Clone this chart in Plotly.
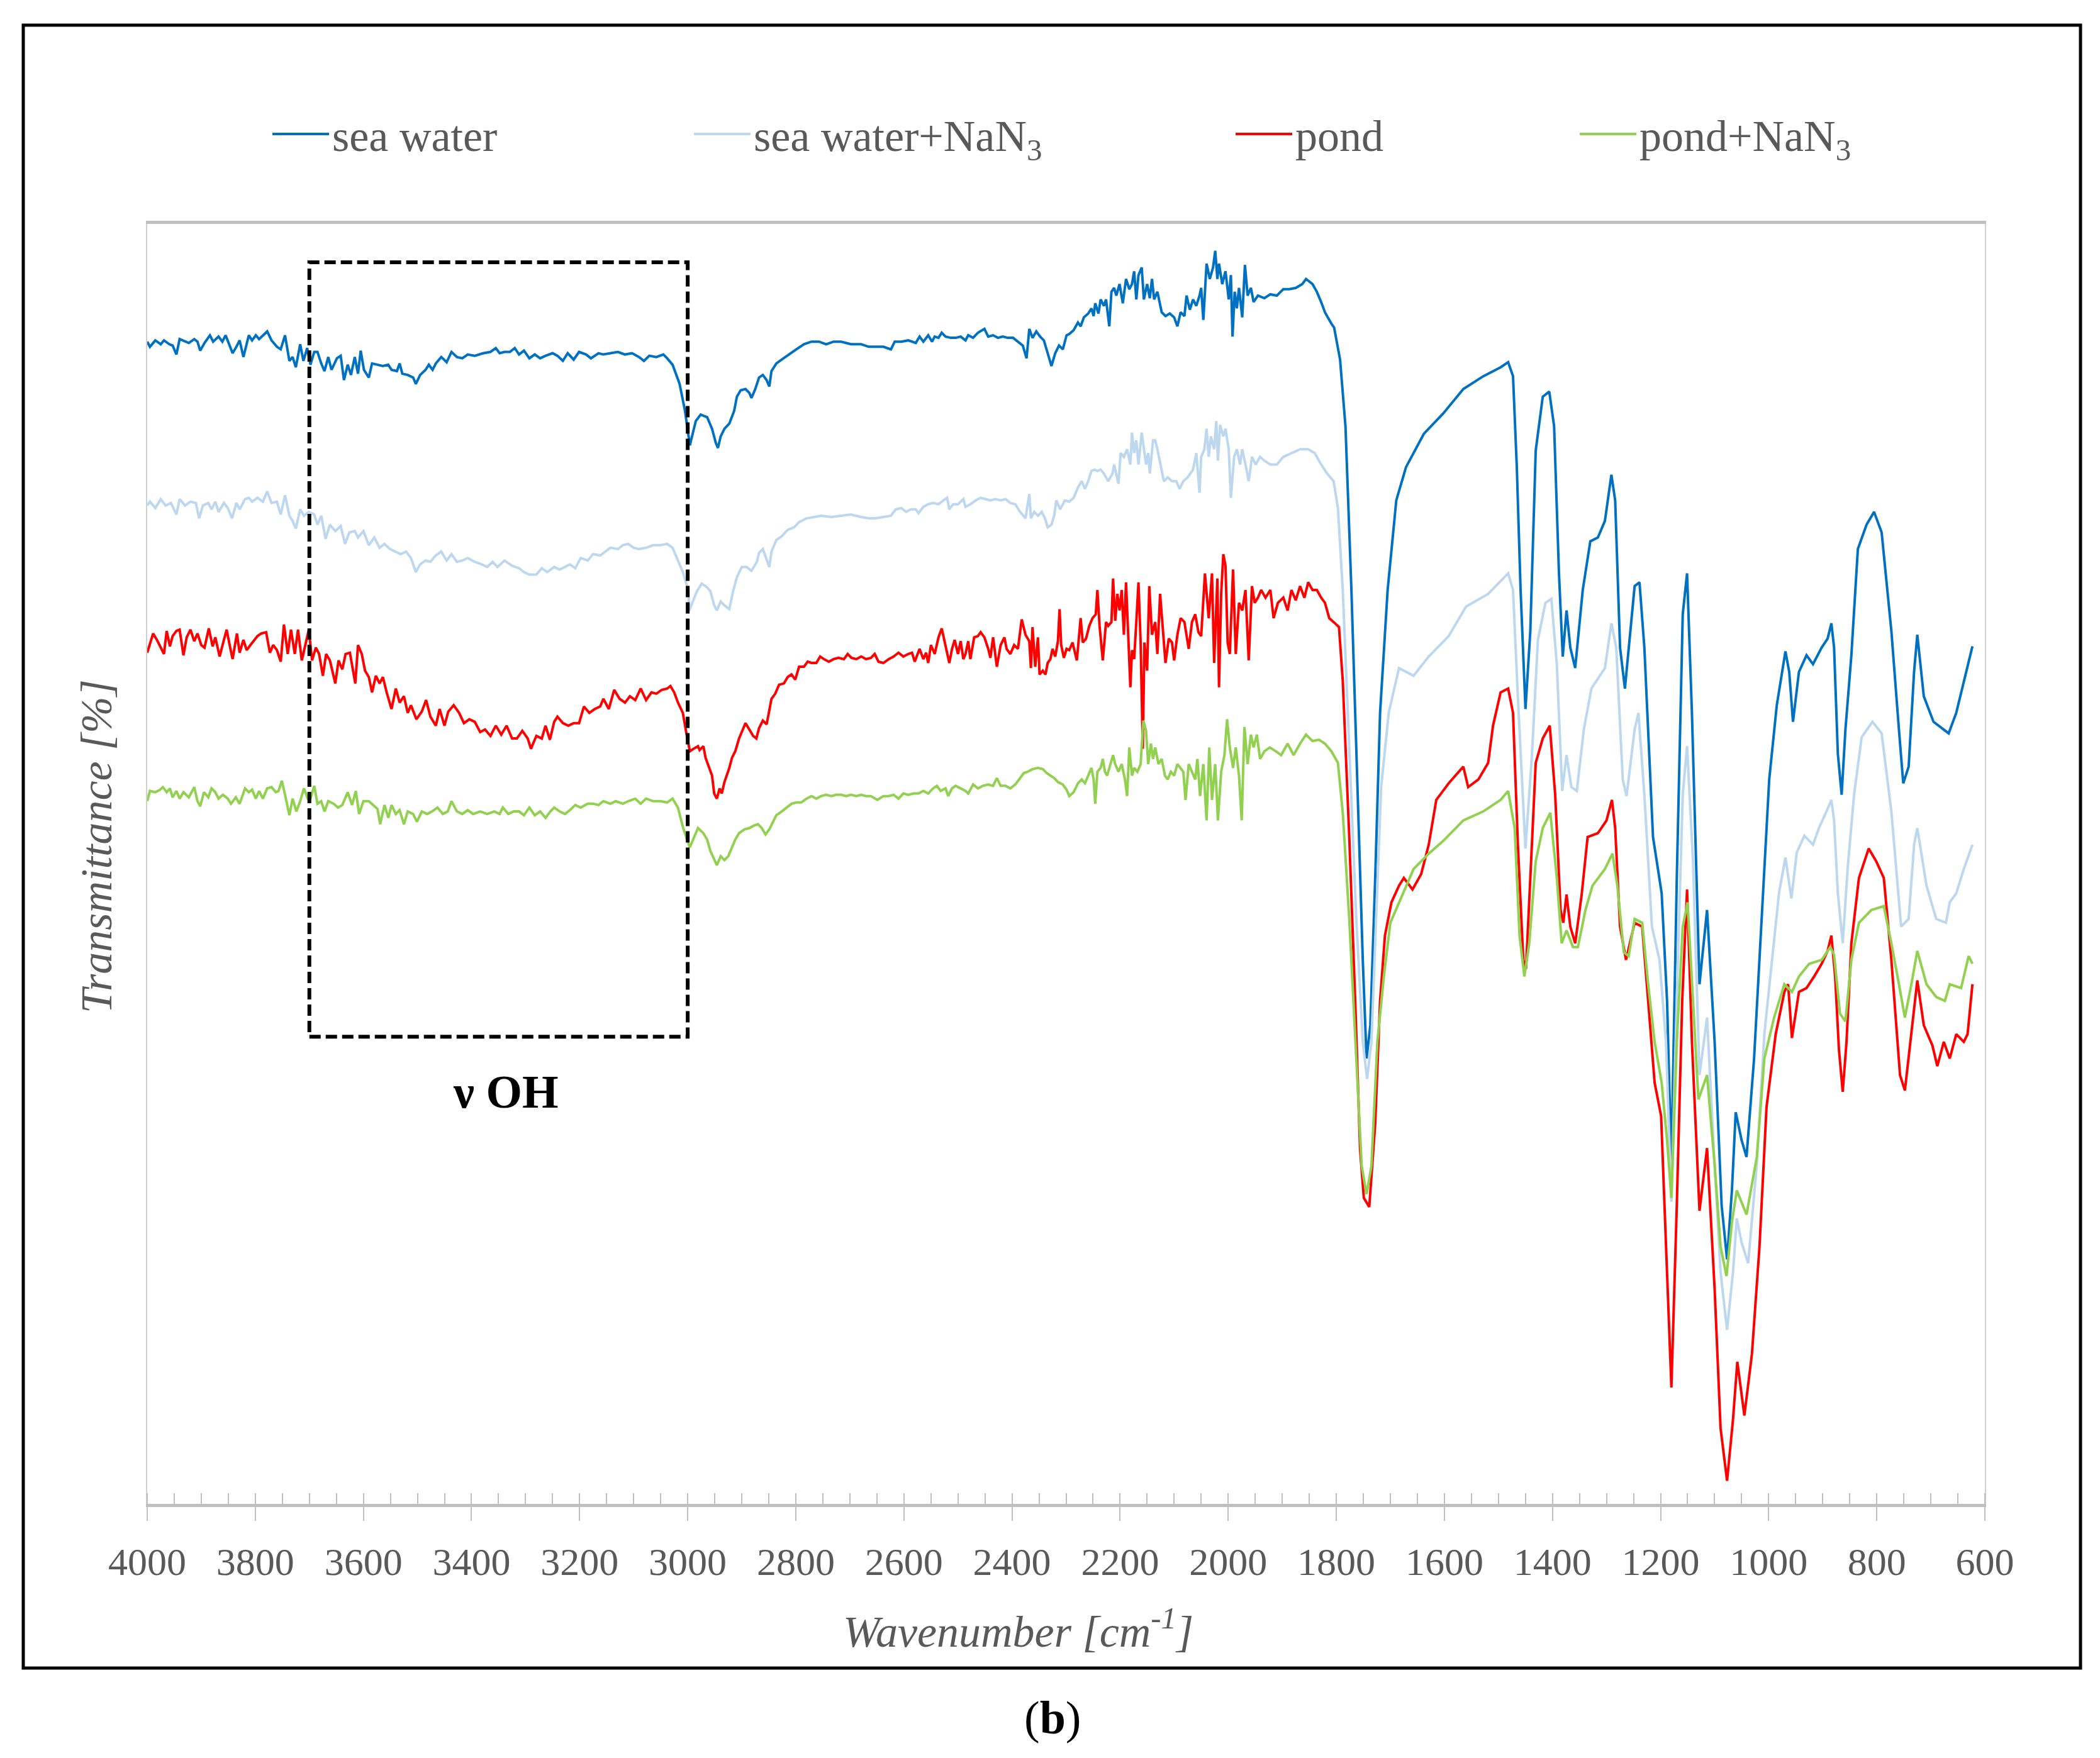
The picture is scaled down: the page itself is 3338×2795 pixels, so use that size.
import plotly.graph_objects as go

# ---------------- data ----------------
# each series: (wavenumber [cm-1], transmittance [arbitrary %-scale]) pairs
series_names = ["sea water", "sea water+NaN<sub>3</sub>", "pond", "pond+NaN<sub>3</sub>"]
series_colors = ["#0070C0", "#BDD7EE", "#FF0000", "#92D050"]

sea_water = [
    (4000, 90.8), (3995, 90.4), (3985, 90.9), (3975, 90.6), (3969, 90.9), (3959, 90.6), (3953, 90.5), (3946, 89.8), (3940, 91.0), (3930, 90.8),
    (3923, 90.7), (3913, 91.0), (3907, 90.8), (3902, 90.1), (3894, 90.7), (3884, 91.3), (3878, 90.8), (3868, 91.2), (3861, 90.8), (3855, 91.3),
    (3848, 90.5), (3842, 89.9), (3835, 90.4), (3829, 90.9), (3822, 89.6), (3812, 91.3), (3806, 90.9), (3799, 91.3), (3793, 91.0), (3786, 91.3),
    (3778, 91.6), (3770, 90.9), (3760, 90.4), (3753, 90.2), (3745, 91.3), (3737, 89.3), (3731, 89.6), (3725, 88.8), (3717, 90.6), (3711, 89.3),
    (3704, 90.3), (3698, 89.0), (3691, 90.0), (3685, 90.0), (3678, 89.1), (3672, 88.5), (3665, 89.6), (3659, 88.6), (3649, 89.5), (3642, 89.7),
    (3636, 87.8), (3629, 89.0), (3623, 88.2), (3616, 89.6), (3610, 88.3), (3605, 90.1), (3599, 88.6), (3590, 88.0), (3584, 89.1), (3574, 89.0),
    (3564, 88.9), (3554, 89.0), (3548, 88.6), (3538, 88.5), (3533, 89.1), (3528, 88.3), (3518, 88.2), (3508, 88.0), (3503, 87.5), (3495, 88.2),
    (3485, 88.6), (3479, 89.0), (3472, 88.6), (3466, 89.1), (3456, 89.6), (3446, 89.2), (3437, 90.0), (3427, 89.6), (3417, 89.5), (3407, 89.8),
    (3394, 89.7), (3378, 89.9), (3365, 90.0), (3355, 90.3), (3348, 89.9), (3339, 90.0), (3329, 90.0), (3320, 90.3), (3312, 89.8), (3303, 90.1),
    (3293, 89.5), (3283, 89.8), (3273, 89.5), (3263, 89.7), (3250, 89.9), (3241, 89.7), (3231, 89.3), (3222, 89.9), (3211, 89.4), (3201, 90.0),
    (3188, 89.8), (3179, 89.5), (3165, 89.9), (3156, 89.8), (3143, 89.9), (3129, 90.0), (3116, 89.8), (3103, 89.9), (3090, 89.6), (3081, 89.3),
    (3071, 89.7), (3058, 89.6), (3045, 89.8), (3038, 89.5), (3028, 89.0), (3015, 87.5), (3005, 85.4), (2996, 82.7),
    (2985, 84.6), (2976, 85.1), (2964, 84.9), (2955, 84.0), (2948, 82.9), (2944, 82.5), (2939, 83.4), (2932, 84.0), (2923, 84.4), (2918, 84.9),
    (2914, 85.4), (2909, 86.5), (2902, 87.0), (2893, 87.1), (2886, 86.8), (2882, 86.4), (2875, 87.1), (2868, 88.0), (2861, 88.2), (2854, 87.8),
    (2849, 87.3), (2845, 88.5), (2836, 89.1), (2826, 89.4), (2813, 89.8), (2799, 90.2), (2785, 90.6), (2771, 90.8), (2757, 90.8), (2744, 90.6),
    (2730, 90.8), (2716, 90.8), (2698, 90.6), (2679, 90.6), (2665, 90.4), (2652, 90.4), (2638, 90.4), (2624, 90.2), (2617, 90.8), (2605, 90.8),
    (2592, 90.9), (2578, 90.7), (2571, 91.2), (2564, 90.8), (2555, 91.3), (2548, 90.8), (2543, 91.2), (2536, 91.1), (2530, 91.5), (2523, 91.2),
    (2513, 91.1), (2504, 91.1), (2495, 91.2), (2486, 90.9), (2481, 91.3), (2472, 91.1), (2463, 91.5), (2451, 91.8), (2444, 91.2), (2435, 91.3),
    (2426, 91.1), (2417, 91.2), (2408, 91.1), (2398, 91.1), (2389, 90.8), (2380, 90.5), (2373, 89.5), (2368, 91.8), (2362, 91.1), (2355, 91.6),
    (2348, 91.2), (2341, 90.9), (2334, 89.9), (2327, 88.9), (2320, 89.9), (2313, 90.5), (2306, 90.2), (2299, 91.3),
    (2294, 91.4), (2286, 91.7), (2278, 92.3), (2273, 92.0), (2267, 92.7), (2259, 93.0), (2253, 93.4), (2249, 92.8), (2246, 93.8), (2240, 93.0),
    (2236, 94.1), (2230, 93.6), (2226, 94.1), (2220, 92.0), (2216, 94.7), (2211, 95.0), (2207, 94.4), (2201, 95.3), (2195, 93.8), (2189, 95.7),
    (2183, 94.9), (2178, 95.3), (2174, 96.3), (2170, 94.1), (2166, 96.0), (2160, 96.6), (2156, 94.1), (2150, 95.3), (2145, 94.2), (2141, 95.7),
    (2137, 94.1), (2131, 94.7), (2123, 93.1), (2116, 92.8), (2108, 93.0), (2100, 92.7), (2094, 92.0), (2088, 93.1), (2081, 92.8), (2077, 94.4),
    (2071, 93.3), (2065, 94.1), (2059, 93.6), (2053, 94.4), (2050, 95.0), (2046, 92.5), (2040, 96.9), (2034, 95.7), (2028, 96.6), (2024, 97.9),
    (2020, 95.7), (2017, 96.9), (2011, 95.3), (2005, 96.3), (1999, 94.1), (1995, 96.0), (1992, 91.2), (1988, 94.7), (1984, 93.4), (1980, 95.0),
    (1974, 92.7), (1969, 96.8), (1964, 94.4), (1958, 95.0), (1953, 93.9), (1945, 94.4), (1933, 94.2), (1922, 94.5), (1910, 94.4), (1898, 94.9),
    (1887, 94.9), (1875, 95.0), (1863, 95.3), (1856, 95.7), (1844, 95.3), (1836, 94.7), (1828, 93.9), (1821, 93.1), (1809, 92.2),
    (1804, 91.9), (1793, 89.4), (1783, 84.2), (1772, 71.4), (1760, 55.3), (1751, 42.5), (1744, 34.8), (1737, 37.4), (1728, 48.9), (1719, 61.8),
    (1705, 71.4), (1689, 78.4), (1671, 81.0), (1638, 83.6), (1602, 85.2), (1565, 87.1), (1528, 88.1), (1496, 88.8), (1482, 89.2), (1473, 88.1),
    (1466, 81.0), (1459, 71.4), (1450, 62.1), (1441, 68.2), (1431, 82.3), (1418, 86.5), (1406, 86.9), (1397, 84.2), (1388, 72.7), (1381, 66.2),
    (1374, 69.8), (1367, 66.9), (1358, 65.3), (1344, 71.4), (1330, 75.2), (1316, 75.5), (1303, 76.8), (1291, 80.4), (1284, 78.4), (1275, 66.9),
    (1266, 63.7),
    (1248, 71.7), (1239, 72.0), (1230, 66.9), (1214, 52.1), (1198, 47.7), (1188, 39.3), (1180, 26.5), (1170, 48.9), (1159, 69.5), (1151, 72.7),
    (1142, 61.8), (1128, 40.6), (1114, 46.4), (1100, 36.1), (1087, 23.3), (1077, 19.1), (1068, 24.5), (1061, 30.6), (1050, 28.4), (1041, 27.1),
    (1027, 34.8), (1013, 45.7), (999, 56.6), (985, 62.4), (969, 66.6), (962, 65.0), (955, 61.1), (944, 65.0), (930, 66.3), (918, 65.6),
    (902, 66.9), (891, 67.6), (884, 68.8), (879, 66.9), (872, 58.6), (865, 55.4), (858, 60.5), (847, 66.3), (835, 74.6), (819, 76.5),
    (805, 77.5), (791, 75.9), (773, 68.2), (759, 60.5), (751, 56.3), (741, 57.6), (731, 65.0), (725, 67.9), (713, 63.1), (695, 61.1),
    (676, 60.5), (667, 60.2), (653, 61.8), (639, 64.3), (623, 67.0),
]

sea_water_nan3 = [
    (4000, 78.0), (3995, 78.3), (3985, 77.8), (3975, 78.5), (3966, 78.0), (3956, 78.2), (3946, 77.3), (3940, 78.5), (3930, 78.0), (3920, 78.3),
    (3910, 78.2), (3904, 77.0), (3897, 78.0), (3887, 78.2), (3881, 77.7), (3874, 78.3), (3868, 77.5), (3858, 78.2), (3851, 77.8), (3843, 77.0),
    (3835, 78.2), (3829, 77.7), (3819, 78.5), (3812, 78.6), (3806, 78.3), (3796, 78.6), (3786, 78.3), (3778, 79.1), (3770, 78.2), (3760, 78.3),
    (3753, 77.3), (3745, 78.8), (3737, 77.2), (3731, 76.8), (3725, 76.2), (3717, 77.7), (3710, 77.2), (3701, 77.5), (3691, 77.3), (3685, 76.5),
    (3678, 77.2), (3670, 75.4), (3662, 76.5), (3652, 76.0), (3642, 76.4), (3634, 75.0), (3626, 75.9), (3616, 76.0), (3610, 75.5), (3600, 76.0),
    (3590, 74.9), (3580, 75.5), (3570, 74.7), (3561, 75.0), (3551, 74.6), (3541, 74.4), (3531, 74.2), (3521, 74.4), (3512, 73.9), (3503, 72.8),
    (3495, 73.4), (3485, 73.7), (3476, 73.6), (3466, 74.1), (3456, 74.4), (3446, 73.7), (3437, 74.2), (3427, 73.6), (3417, 73.7), (3407, 73.9),
    (3394, 73.6), (3381, 73.4), (3371, 73.2), (3361, 73.6), (3352, 73.2), (3339, 73.7), (3325, 73.3), (3312, 73.1), (3303, 72.8), (3293, 72.6),
    (3280, 72.6), (3270, 73.1), (3260, 72.8), (3247, 73.2), (3237, 73.0), (3227, 73.2), (3218, 73.4), (3208, 73.1), (3198, 73.9), (3185, 73.7),
    (3175, 74.2), (3162, 74.1), (3152, 74.4), (3143, 74.7), (3129, 74.6), (3120, 74.9), (3110, 75.0), (3100, 74.7), (3090, 74.6), (3077, 74.7),
    (3064, 74.9), (3051, 74.9), (3038, 75.0), (3028, 74.7), (3018, 73.7), (3009, 72.8), (2999, 71.4), (2997, 69.8),
    (2983, 71.3), (2974, 71.9), (2964, 71.6), (2958, 71.3), (2951, 70.2), (2946, 69.8), (2939, 70.5), (2932, 70.2), (2923, 69.9), (2916, 71.3),
    (2909, 72.4), (2900, 73.2), (2891, 73.2), (2882, 72.9), (2872, 73.6), (2868, 74.3), (2861, 74.6), (2854, 73.7), (2849, 73.2), (2845, 74.4),
    (2836, 75.3), (2826, 75.6), (2815, 76.1), (2803, 76.3), (2794, 76.7), (2780, 77.0), (2767, 77.1), (2753, 77.2), (2734, 77.1), (2716, 77.2),
    (2698, 77.3), (2679, 77.1), (2665, 77.0), (2652, 77.0), (2638, 77.1), (2624, 77.2), (2615, 77.7), (2605, 77.8), (2596, 77.5), (2587, 77.7),
    (2578, 77.7), (2573, 77.4), (2564, 77.9), (2555, 78.1), (2546, 78.2), (2536, 78.1), (2527, 78.4), (2520, 78.6), (2516, 77.7), (2509, 78.1),
    (2500, 78.1), (2490, 78.5), (2486, 77.9), (2477, 78.1), (2467, 78.4), (2458, 78.6), (2449, 78.5), (2440, 78.4), (2431, 78.5), (2421, 78.4),
    (2412, 78.5), (2403, 78.2), (2394, 78.1), (2385, 77.5), (2375, 77.0), (2368, 78.9), (2365, 77.0), (2359, 77.5), (2352, 77.2), (2345, 77.5),
    (2339, 77.0), (2334, 76.3), (2327, 76.5), (2322, 77.2), (2318, 78.4), (2311, 77.7), (2302, 78.4),
    (2294, 78.3), (2286, 78.6), (2278, 79.4), (2271, 79.9), (2265, 79.3), (2259, 79.9), (2253, 80.7), (2247, 80.8), (2242, 80.7), (2236, 80.8),
    (2230, 80.5), (2222, 79.9), (2214, 80.5), (2211, 81.2), (2207, 80.5), (2203, 79.7), (2199, 82.1), (2193, 81.8), (2187, 82.4), (2181, 81.2),
    (2178, 83.7), (2174, 82.1), (2170, 83.1), (2166, 81.2), (2160, 83.7), (2156, 82.4), (2152, 81.2), (2148, 82.1), (2145, 80.5), (2139, 83.1),
    (2135, 83.1), (2131, 82.4), (2125, 81.2), (2119, 79.9), (2112, 80.2), (2104, 79.9), (2096, 79.9), (2090, 79.3), (2083, 79.9), (2075, 80.2),
    (2065, 80.8), (2059, 82.1), (2053, 79.0), (2050, 81.8), (2044, 82.4), (2040, 84.0), (2036, 81.8), (2032, 83.4), (2026, 82.4), (2022, 84.6),
    (2019, 81.5), (2015, 84.3), (2009, 83.4), (2005, 84.0), (1999, 82.4), (1995, 78.6), (1989, 81.8), (1984, 82.4), (1978, 81.2), (1974, 82.4),
    (1968, 81.2), (1962, 79.9), (1956, 81.8), (1949, 81.2), (1941, 81.8), (1933, 81.5), (1922, 81.2), (1910, 81.2), (1898, 81.8), (1883, 82.1),
    (1867, 82.4), (1852, 82.4), (1840, 82.1), (1828, 81.2), (1817, 80.5), (1805, 79.9),
    (1797, 77.8), (1788, 71.4), (1776, 58.5), (1763, 45.7), (1751, 36.1), (1743, 33.2), (1735, 36.1), (1726, 45.7), (1717, 56.0), (1703, 61.8),
    (1684, 65.3), (1657, 64.7), (1629, 66.2), (1592, 67.8), (1560, 70.1), (1519, 71.1), (1482, 72.7), (1473, 71.4), (1464, 63.0), (1450, 51.2),
    (1438, 58.5), (1427, 67.5), (1413, 70.4), (1402, 70.7), (1392, 65.6), (1382, 55.7), (1374, 58.5), (1365, 56.0), (1355, 55.7), (1342, 60.5),
    (1328, 63.7), (1303, 65.3), (1291, 68.8), (1282, 66.9), (1270, 56.6), (1263, 55.3),
    (1248, 60.5), (1241, 61.8), (1230, 55.4), (1216, 45.1), (1202, 42.5), (1190, 36.1), (1180, 23.6), (1168, 42.5), (1159, 55.4), (1151, 59.2),
    (1140, 50.2), (1128, 33.5), (1114, 38.0), (1100, 26.5), (1089, 18.1), (1077, 13.6), (1066, 18.1), (1059, 22.3), (1050, 20.4), (1038, 18.8),
    (1022, 26.5), (1008, 36.7), (994, 42.5), (981, 47.7), (969, 50.5), (958, 47.3), (948, 50.9), (934, 52.2), (918, 51.5), (907, 52.8),
    (893, 54.1), (884, 55.0), (879, 53.4), (872, 47.7), (863, 43.8), (854, 49.6), (842, 55.4), (828, 59.9), (808, 61.1), (791, 60.2),
    (773, 54.1), (755, 45.1), (741, 45.7), (731, 51.5), (725, 52.8), (708, 48.3), (690, 45.7), (672, 45.4), (665, 47.0), (653, 47.7),
    (639, 49.6), (623, 51.5),
]

pond = [
    (4000, 66.5), (3995, 67.2), (3989, 68.0), (3982, 67.5), (3976, 67.0), (3969, 66.4), (3964, 68.2), (3958, 67.0), (3953, 67.8), (3946, 68.2),
    (3940, 68.3), (3933, 66.3), (3927, 67.7), (3920, 68.3), (3913, 67.4), (3907, 68.0), (3900, 67.1), (3894, 66.9), (3886, 68.4), (3879, 67.0),
    (3874, 67.7), (3866, 66.2), (3860, 67.2), (3853, 68.3), (3847, 67.0), (3842, 66.0), (3834, 68.0), (3829, 66.5), (3822, 67.5), (3816, 66.7),
    (3809, 67.1), (3802, 67.5), (3796, 67.8), (3789, 68.0), (3780, 68.1), (3773, 66.5), (3767, 67.1), (3760, 66.7), (3753, 65.8), (3747, 68.7),
    (3740, 66.4), (3734, 68.3), (3727, 66.4), (3721, 68.3), (3714, 65.9), (3708, 67.0), (3701, 68.3), (3695, 65.9), (3688, 66.9), (3682, 66.4),
    (3675, 64.7), (3669, 66.4), (3662, 65.9), (3652, 64.1), (3646, 65.9), (3639, 65.2), (3633, 66.4), (3625, 66.5), (3615, 64.1), (3610, 67.1),
    (3603, 66.4), (3597, 65.1), (3590, 64.6), (3584, 63.4), (3577, 64.7), (3570, 64.1), (3564, 64.6), (3557, 63.4), (3548, 62.1), (3540, 63.7),
    (3533, 62.6), (3525, 63.1), (3518, 61.8), (3512, 62.4), (3502, 61.3), (3492, 61.9), (3484, 62.8), (3476, 61.5), (3466, 60.8), (3459, 62.1),
    (3450, 60.8), (3443, 61.9), (3433, 62.4), (3423, 61.8), (3414, 61.0), (3404, 61.3), (3394, 61.1), (3384, 60.3), (3375, 60.5), (3365, 60.0),
    (3355, 60.8), (3345, 60.1), (3335, 60.8), (3325, 59.8), (3316, 59.8), (3306, 60.4), (3296, 59.8), (3290, 59.0), (3280, 60.0), (3270, 59.8),
    (3263, 60.8), (3255, 59.7), (3247, 61.1), (3241, 61.5), (3231, 61.0), (3221, 60.8), (3211, 61.0), (3201, 61.0), (3192, 62.3), (3182, 61.8),
    (3172, 62.1), (3162, 62.3), (3156, 62.9), (3146, 62.1), (3136, 63.6), (3126, 62.9), (3116, 62.6), (3107, 63.1), (3097, 62.8), (3087, 63.7),
    (3077, 62.8), (3067, 63.4), (3058, 63.3), (3048, 63.6), (3038, 63.7), (3032, 63.9), (3025, 63.4), (3018, 62.6), (3009, 61.8), (3002, 60.1),
    (2996, 58.8), (2989, 59.0), (2981, 59.2),
    (2978, 58.9), (2971, 59.2), (2967, 58.3), (2960, 57.5), (2955, 56.9), (2951, 55.5), (2946, 55.1), (2941, 55.9), (2937, 55.5), (2932, 56.4),
    (2928, 56.9), (2923, 57.5), (2918, 58.3), (2912, 58.8), (2905, 59.8), (2898, 60.5), (2893, 61.0), (2886, 60.5), (2879, 60.0), (2873, 59.8),
    (2868, 60.6), (2861, 61.2), (2854, 60.9), (2849, 62.0), (2845, 62.9), (2838, 63.3), (2831, 64.0), (2822, 64.1), (2815, 64.6), (2808, 64.8),
    (2801, 64.4), (2794, 65.4), (2785, 65.4), (2778, 65.8), (2771, 65.7), (2762, 65.7), (2755, 66.2), (2748, 66.0), (2739, 65.8), (2730, 66.0),
    (2721, 66.1), (2711, 66.0), (2704, 66.4), (2697, 66.1), (2688, 66.0), (2679, 66.2), (2670, 66.0), (2661, 66.1), (2654, 66.4), (2647, 65.8),
    (2638, 65.7), (2628, 66.0), (2619, 66.2), (2610, 66.5), (2601, 66.2), (2592, 66.4), (2585, 66.5), (2580, 65.8), (2576, 66.2), (2571, 66.8),
    (2564, 66.0), (2559, 66.5), (2555, 65.7), (2550, 67.1), (2543, 66.4), (2536, 67.7), (2530, 68.4), (2523, 67.1), (2516, 65.7), (2511, 66.8),
    (2506, 67.5), (2500, 66.4), (2495, 67.4), (2490, 66.0), (2486, 66.4), (2481, 67.4), (2477, 66.0), (2470, 67.7), (2463, 67.8), (2458, 68.1),
    (2451, 67.7), (2444, 66.8), (2440, 66.1), (2435, 67.7), (2428, 65.4), (2421, 67.1), (2414, 67.7), (2410, 66.8), (2403, 66.4), (2396, 67.1),
    (2389, 66.8), (2382, 69.1), (2375, 67.9), (2368, 67.4), (2365, 65.3), (2362, 68.5), (2357, 65.4), (2352, 67.7), (2349, 64.8), (2343, 65.1),
    (2338, 64.8), (2334, 65.7), (2329, 66.0), (2325, 66.8), (2320, 66.2), (2315, 67.4), (2312, 69.9), (2309, 67.1), (2304, 66.1), (2299, 66.8),
    (2294, 66.7), (2288, 67.3), (2280, 65.9), (2273, 69.2), (2269, 67.3), (2263, 67.6), (2257, 68.6), (2251, 69.2), (2245, 69.5), (2242, 71.4),
    (2238, 68.6), (2232, 65.9), (2226, 68.9), (2222, 68.6), (2216, 68.9), (2213, 72.3), (2209, 69.0), (2205, 71.1), (2201, 69.8), (2197, 71.4),
    (2193, 67.9), (2189, 72.0), (2181, 63.8), (2178, 66.7), (2174, 66.0), (2170, 68.9), (2166, 72.0), (2162, 67.3), (2158, 59.0), (2155, 67.3),
    (2150, 65.1), (2146, 71.7), (2141, 67.9), (2135, 68.9), (2131, 66.4), (2126, 71.1), (2121, 68.6), (2116, 65.7), (2110, 67.6), (2104, 67.3),
    (2100, 65.9), (2094, 67.9), (2088, 69.2), (2081, 68.9), (2073, 66.8), (2067, 68.9), (2061, 69.5), (2055, 68.1), (2050, 67.8), (2043, 72.7),
    (2036, 69.2), (2030, 72.7), (2026, 65.7), (2020, 72.3), (2017, 63.8), (2013, 71.1), (2009, 74.2), (2005, 73.3), (2001, 67.3), (1997, 66.4),
    (1991, 73.0), (1986, 66.4), (1980, 70.4), (1974, 69.8), (1968, 71.4), (1962, 65.9), (1956, 71.7), (1951, 70.4), (1945, 70.8), (1939, 71.4),
    (1931, 70.8), (1922, 71.4), (1916, 69.2), (1908, 70.4), (1898, 70.8), (1890, 69.8), (1883, 71.4), (1875, 70.6), (1867, 71.7), (1859, 70.8),
    (1852, 72.0), (1844, 71.4), (1836, 71.4), (1828, 70.8), (1821, 70.4), (1813, 69.2), (1805, 68.9),
    (1795, 68.5), (1788, 64.3), (1776, 52.1), (1765, 39.3), (1756, 27.7), (1749, 23.9), (1739, 23.2), (1728, 29.7), (1719, 39.3), (1710, 44.4),
    (1698, 47.0), (1684, 48.3), (1675, 48.9), (1659, 48.0), (1643, 49.2), (1629, 51.5), (1615, 55.0), (1592, 56.3), (1565, 57.6), (1556, 56.0),
    (1537, 56.6), (1519, 57.9), (1510, 60.8), (1496, 63.4), (1482, 63.7), (1473, 61.8), (1464, 51.5), (1454, 42.5), (1449, 41.8), (1441, 48.9),
    (1431, 57.9), (1418, 59.8), (1405, 60.8), (1395, 55.4), (1385, 46.4), (1380, 45.4), (1374, 47.6), (1367, 45.1), (1358, 43.8), (1346, 47.6),
    (1335, 52.1), (1316, 52.4), (1300, 53.4), (1290, 55.0), (1284, 52.8), (1275, 45.1), (1264, 42.5),
    (1248, 45.4), (1234, 45.1), (1223, 39.3), (1211, 32.9), (1199, 30.3), (1190, 20.1), (1180, 9.1), (1170, 23.3), (1160, 39.3), (1151, 48.0),
    (1142, 36.1), (1128, 22.9), (1114, 27.8), (1100, 16.8), (1089, 5.9), (1077, 1.8), (1066, 6.6), (1058, 11.1), (1045, 6.9), (1031, 11.7),
    (1017, 20.1), (1004, 31.0), (987, 36.7), (971, 40.0), (964, 40.6), (957, 36.4), (944, 40.0), (930, 40.3), (916, 41.2), (902, 42.2),
    (891, 43.2), (884, 44.4), (877, 41.2), (870, 35.5), (863, 32.2), (856, 36.1), (847, 43.8), (833, 48.9), (815, 51.2), (801, 50.2),
    (787, 48.9), (773, 42.5), (757, 33.5), (748, 32.3), (736, 36.7), (725, 40.9), (713, 37.4), (697, 35.8), (688, 34.2), (676, 36.1),
    (665, 34.8), (653, 36.7), (639, 36.1), (632, 36.7), (623, 40.6),
]

pond_nan3 = [
    (4000, 54.9), (3995, 55.7), (3985, 55.6), (3976, 55.8), (3971, 56.0), (3964, 55.6), (3958, 55.9), (3953, 55.2), (3946, 55.7), (3940, 55.1),
    (3933, 55.6), (3923, 55.2), (3913, 56.0), (3907, 54.9), (3902, 54.5), (3895, 55.6), (3887, 55.2), (3881, 55.9), (3874, 55.6), (3868, 55.1),
    (3860, 55.4), (3851, 55.1), (3845, 54.7), (3836, 55.2), (3829, 54.7), (3819, 55.9), (3812, 55.6), (3806, 55.8), (3799, 55.1), (3793, 55.7),
    (3786, 55.1), (3778, 55.9), (3770, 56.0), (3762, 55.6), (3757, 55.7), (3751, 56.5), (3745, 55.4), (3737, 53.8), (3731, 55.1), (3724, 54.1),
    (3717, 54.9), (3710, 55.9), (3703, 55.1), (3698, 55.1), (3691, 56.1), (3685, 54.7), (3678, 54.9), (3672, 54.1), (3665, 54.9), (3655, 54.7),
    (3647, 54.4), (3639, 54.6), (3629, 55.6), (3621, 54.6), (3614, 55.7), (3608, 53.9), (3600, 54.9), (3590, 54.9), (3582, 54.6), (3574, 54.3),
    (3569, 53.1), (3561, 54.6), (3554, 53.6), (3548, 54.6), (3540, 53.9), (3533, 54.2), (3525, 53.1), (3518, 54.1), (3508, 53.9), (3501, 53.3),
    (3492, 54.1), (3482, 53.9), (3473, 54.1), (3463, 54.4), (3453, 53.9), (3444, 54.1), (3437, 54.9), (3427, 54.1), (3417, 53.9), (3407, 54.2),
    (3397, 53.9), (3384, 54.1), (3371, 53.9), (3358, 54.1), (3348, 53.9), (3342, 54.4), (3332, 53.9), (3322, 54.1), (3312, 54.1), (3303, 53.8),
    (3293, 54.4), (3283, 53.8), (3273, 54.1), (3263, 53.6), (3254, 54.1), (3247, 54.4), (3237, 54.1), (3227, 53.9), (3218, 54.2), (3208, 54.6),
    (3198, 54.4), (3185, 54.7), (3175, 54.7), (3165, 54.6), (3156, 54.9), (3143, 54.7), (3133, 54.9), (3120, 54.7), (3110, 54.9), (3097, 55.1),
    (3087, 54.7), (3077, 55.1), (3064, 54.9), (3051, 54.9), (3038, 54.8), (3028, 55.1), (3018, 54.4), (3009, 52.9), (3002, 52.0), (2996, 51.3),
    (2989, 52.0), (2981, 52.8),
    (2971, 52.4), (2964, 51.9), (2958, 51.0), (2951, 50.3), (2946, 49.9), (2939, 50.6), (2932, 50.3), (2925, 50.6), (2918, 51.3), (2912, 51.9),
    (2905, 52.4), (2895, 52.7), (2886, 52.8), (2877, 53.0), (2870, 53.1), (2863, 52.8), (2856, 52.3), (2849, 52.7), (2842, 53.3), (2836, 53.8),
    (2826, 54.1), (2817, 54.4), (2808, 54.7), (2799, 54.8), (2790, 54.8), (2780, 55.1), (2771, 55.3), (2762, 55.1), (2753, 55.3), (2744, 55.4),
    (2734, 55.3), (2725, 55.4), (2716, 55.4), (2707, 55.3), (2698, 55.4), (2688, 55.3), (2679, 55.4), (2670, 55.3), (2661, 55.3), (2649, 55.0),
    (2638, 55.3), (2628, 55.3), (2619, 55.4), (2610, 55.1), (2601, 55.5), (2592, 55.4), (2582, 55.5), (2573, 55.5), (2564, 55.7), (2555, 55.5),
    (2546, 55.9), (2539, 56.1), (2532, 55.7), (2523, 55.9), (2518, 55.3), (2511, 55.9), (2504, 56.1), (2495, 55.9), (2486, 55.7), (2481, 55.5),
    (2472, 56.2), (2463, 55.9), (2454, 56.1), (2444, 56.2), (2435, 56.1), (2428, 56.7), (2421, 56.1), (2412, 56.1), (2403, 55.9), (2394, 56.2),
    (2385, 56.7), (2378, 57.1), (2371, 57.2), (2362, 57.4), (2352, 57.5), (2343, 57.4), (2336, 57.1), (2329, 56.9), (2322, 56.7), (2315, 56.4),
    (2306, 56.2), (2299, 55.8),
    (2294, 55.3), (2286, 55.6), (2278, 56.3), (2271, 56.6), (2265, 56.3), (2259, 56.9), (2253, 57.5), (2249, 56.6), (2246, 54.7), (2242, 57.2),
    (2236, 57.5), (2232, 58.2), (2228, 57.2), (2224, 56.9), (2218, 57.8), (2213, 58.5), (2209, 57.8), (2203, 57.2), (2197, 57.8), (2191, 56.6),
    (2187, 55.3), (2183, 59.1), (2178, 56.9), (2174, 57.5), (2168, 57.2), (2162, 57.8), (2157, 61.2), (2152, 60.4), (2148, 57.8), (2143, 59.4),
    (2139, 58.2), (2135, 59.1), (2129, 57.8), (2123, 58.2), (2117, 56.9), (2112, 56.6), (2106, 57.2), (2100, 56.9), (2094, 57.8), (2088, 57.5),
    (2083, 57.2), (2079, 55.0), (2073, 57.8), (2067, 57.2), (2061, 56.6), (2057, 58.2), (2052, 55.3), (2046, 57.8), (2040, 53.4), (2035, 59.1),
    (2030, 55.0), (2024, 57.8), (2019, 53.4), (2013, 57.2), (2007, 58.5), (2002, 61.3), (1997, 59.1), (1991, 57.5), (1986, 59.1), (1980, 56.9),
    (1975, 53.4), (1970, 60.7), (1964, 57.8), (1958, 60.1), (1953, 59.1), (1947, 60.1), (1941, 58.2), (1933, 58.8), (1923, 59.1), (1912, 58.8),
    (1902, 58.5), (1890, 59.4), (1879, 58.5), (1867, 59.4), (1856, 60.1), (1844, 59.6), (1832, 59.7), (1821, 59.4), (1809, 58.8),
    (1797, 57.9), (1788, 54.0), (1776, 45.7), (1765, 36.1), (1753, 26.4), (1744, 24.2), (1735, 26.4), (1724, 36.1), (1712, 41.2), (1700, 45.4),
    (1684, 47.0), (1657, 49.6), (1629, 50.8), (1602, 51.8), (1565, 53.4), (1528, 54.1), (1496, 55.0), (1482, 55.7), (1470, 52.8), (1461, 44.4),
    (1452, 41.2), (1443, 43.8), (1431, 50.2), (1418, 52.8), (1404, 54.0), (1392, 48.9), (1383, 43.8), (1374, 44.8), (1362, 43.5), (1353, 43.5),
    (1339, 46.4), (1326, 48.3), (1303, 49.6), (1289, 50.8), (1280, 48.3), (1268, 43.1), (1259, 42.8),
    (1248, 45.7), (1234, 45.4), (1223, 40.6), (1211, 36.1), (1198, 32.9), (1188, 28.4), (1180, 23.9), (1170, 36.1), (1159, 45.1), (1150, 47.0),
    (1140, 39.3), (1130, 31.6), (1114, 33.5), (1100, 26.5), (1089, 20.1), (1078, 17.8), (1068, 22.0), (1059, 24.5), (1041, 22.6), (1022, 27.1),
    (1008, 34.8), (990, 38.0), (971, 40.6), (957, 40.0), (944, 41.2), (925, 42.2), (902, 42.5), (886, 43.5), (879, 42.9), (868, 38.3),
    (858, 37.7), (847, 42.5), (833, 45.4), (810, 46.4), (787, 46.7), (773, 43.8), (759, 40.6), (748, 38.0), (736, 40.6), (725, 43.2),
    (708, 40.6), (690, 39.6), (674, 39.3), (665, 40.6), (644, 40.3), (630, 42.8), (623, 42.2),
]

x_tick_values = [4000, 3800, 3600, 3400, 3200, 3000, 2800, 2600, 2400, 2200, 2000, 1800, 1600, 1400, 1200, 1000, 800, 600]
x_tick_labels = [str(v) for v in x_tick_values]

# region marked on the plot (ν OH band)
oh_band = (3700, 3000)
oh_box_t = (36.5, 97.0)

# ---------------- figure ----------------
# page body has an 8 px margin: figure pixels = reference pixels - 8
BODY = 8
W, H = 3338 - BODY, 2795 - BODY
ML, MT = 234 - BODY, 356 - BODY
PW, PH = 2921, 2035
MR, MB = W - ML - PW, H - MT - PH


def px(c):  # paper x from reference canvas pixel
    return (c - BODY - ML) / PW


def py(c):  # paper y from reference canvas pixel
    return (MT + PH - (c - BODY)) / PH


SERIF = "Liberation Serif"
GREY_TXT = "#595959"

fig = go.Figure()
all_series = [sea_water, sea_water_nan3, pond, pond_nan3]
legend_ids = ["legend", "legend2", "legend3", "legend4"]
for name, col, pts, lg in zip(series_names, series_colors, all_series, legend_ids):
    xs = [p[0] for p in pts]
    ys = [p[1] for p in pts]
    fig.add_trace(go.Scatter(x=xs, y=ys, mode="lines", name=name,
                             line=dict(color=col, width=4), legend=lg))

legend_x_px = [428, 1098, 1959, 2506]
common_leg = dict(orientation="h", xanchor="left", yanchor="middle", y=py(213),
                  font=dict(family=SERIF, size=70, color=GREY_TXT),
                  bgcolor="rgba(0,0,0,0)", borderwidth=0, itemwidth=90)
legs = {}
for lg, xp in zip(legend_ids, legend_x_px):
    legs[lg] = dict(common_leg, x=px(xp))

fig.update_layout(
    width=W, height=H,
    margin=dict(l=ML, r=MR, t=MT, b=MB),
    paper_bgcolor="white", plot_bgcolor="white",
    showlegend=True,
    **legs,
)

fig.update_xaxes(
    range=[4000, 600], tickmode="array", tickvals=x_tick_values, ticktext=x_tick_labels,
    ticks="outside", ticklen=22, tickwidth=2, tickcolor="#BFBFBF",
    minor=dict(ticks="inside", dtick=50, tick0=0, ticklen=17, tickwidth=2, tickcolor="#BFBFBF"),
    showline=True, linecolor="#BFBFBF", linewidth=5, mirror=True,
    showgrid=False, zeroline=False,
    tickfont=dict(family=SERIF, size=62, color=GREY_TXT), ticklabelstandoff=12,
)
fig.update_yaxes(
    range=[0, 100], showticklabels=False, ticks="",
    showline=True, linecolor="#D0D0D0", linewidth=2, mirror=True,
    showgrid=False, zeroline=False,
)

# dashed box around the OH band
fig.add_shape(type="rect", xref="x", yref="y", x0=oh_band[0], x1=oh_band[1],
              y0=oh_box_t[0], y1=oh_box_t[1],
              line=dict(color="black", width=6, dash="18px,8px"))

# outer frame
fig.add_shape(type="rect", xref="paper", yref="paper",
              x0=px(37), x1=px(3307), y0=py(2652), y1=py(40),
              line=dict(color="black", width=5))

fig.add_annotation(x=3336, y=32.2, xref="x", yref="y", text="<b>ν OH</b>", showarrow=False,
                   xanchor="center", yanchor="middle",
                   font=dict(family=SERIF, size=74, color="black"))
fig.add_annotation(x=px(1618), y=py(2589), xref="paper", yref="paper",
                   xanchor="center", yanchor="middle",
                   text="<i>Wavenumber [cm<sup>-1</sup>]</i>", showarrow=False,
                   font=dict(family=SERIF, size=70, color=GREY_TXT))
fig.add_annotation(x=px(153), y=py(1346), xref="paper", yref="paper", textangle=-90,
                   xanchor="center", yanchor="middle",
                   text="<i>Transmittance [%]</i>", showarrow=False,
                   font=dict(family=SERIF, size=70, color=GREY_TXT))
fig.add_annotation(x=px(1673), y=py(2731), xref="paper", yref="paper",
                   xanchor="center", yanchor="middle",
                   text="(<b>b</b>)", showarrow=False,
                   font=dict(family=SERIF, size=74, color="black"))

fig.write_html("out.html")
